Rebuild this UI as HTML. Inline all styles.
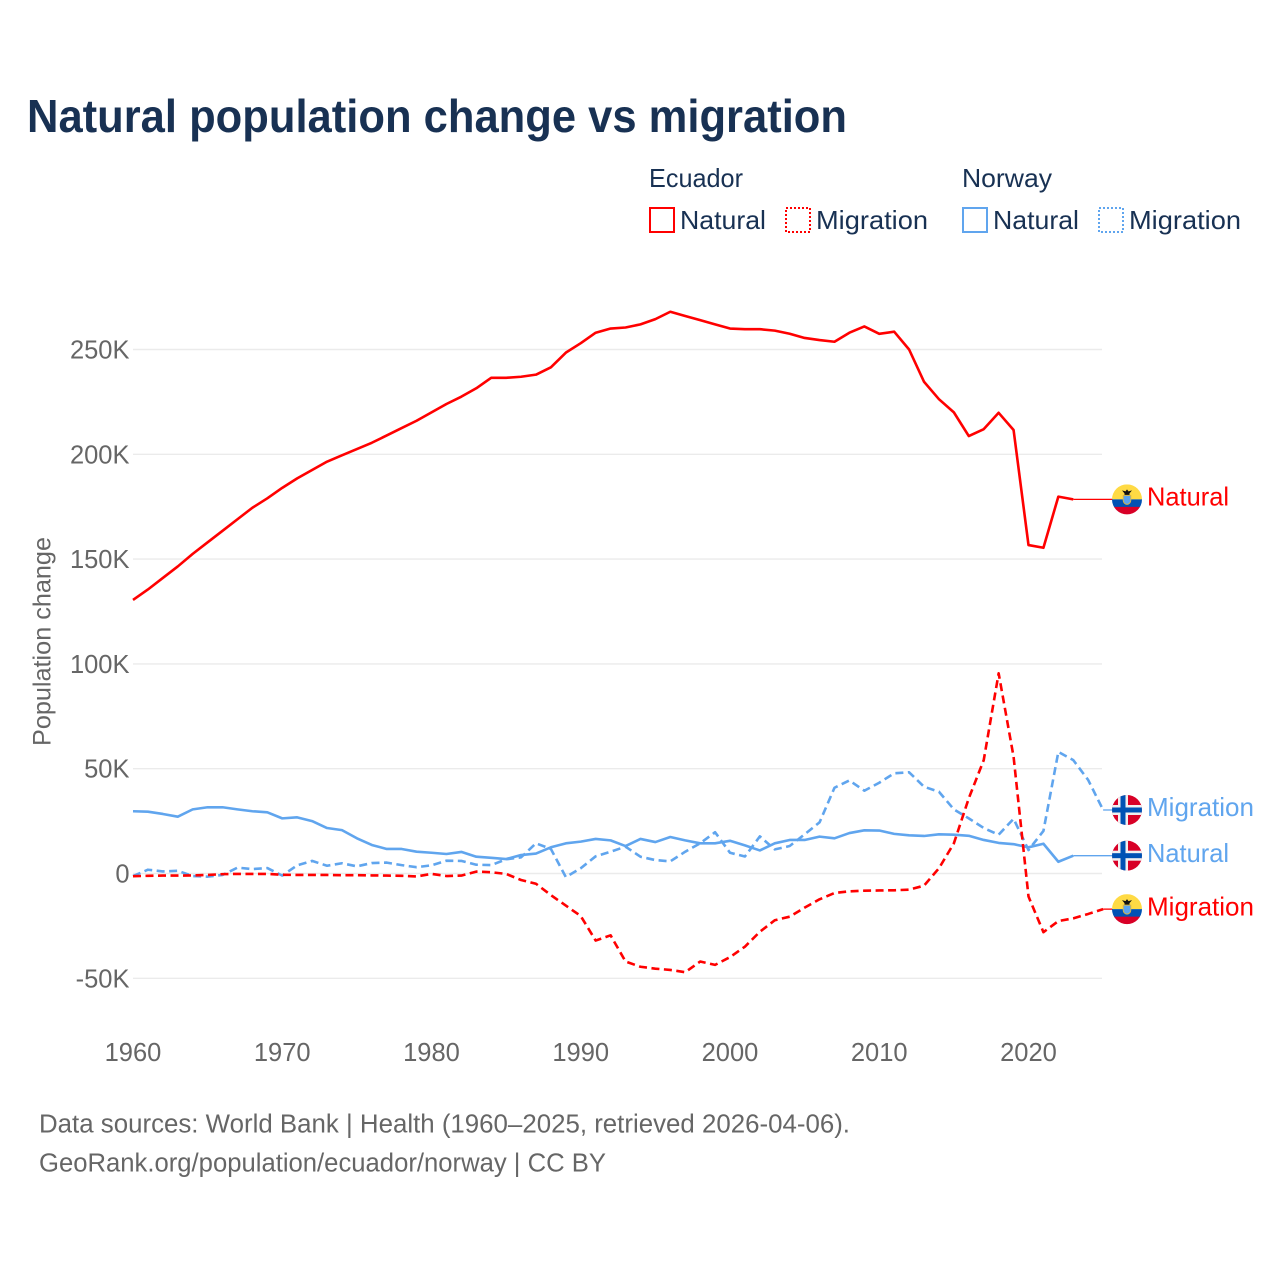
<!DOCTYPE html>
<html lang="en">
<head>
<meta charset="utf-8">
<title>Natural population change vs migration</title>
<style>
html,body{margin:0;padding:0;background:#fff;width:1280px;height:1280px;overflow:hidden}
svg{display:block}
text{font-family:"Liberation Sans",sans-serif}
</style>
</head>
<body>
<svg id="chart" xmlns="http://www.w3.org/2000/svg" width="1280" height="1280" viewBox="0 0 1280 1280">
  <defs>
    <clipPath id="flag-clip"><circle cx="0" cy="0" r="15"></circle></clipPath>
  </defs>
  <rect x="0" y="0" width="1280" height="1280" fill="#ffffff"></rect>
  <text x="27" y="132" font-size="46" font-weight="700" fill="#183153" textLength="820" lengthAdjust="spacingAndGlyphs">Natural population change vs migration</text>

  <g font-size="26" fill="#183153">
    <text x="649" y="187" textLength="94" lengthAdjust="spacingAndGlyphs">Ecuador</text>
    <text x="962" y="187" textLength="90" lengthAdjust="spacingAndGlyphs">Norway</text>
    <g>
      <rect x="650" y="208" width="24" height="24" fill="none" stroke="#ff0000" stroke-width="2"></rect>
      <text x="680" y="229" textLength="86" lengthAdjust="spacingAndGlyphs">Natural</text>
    </g>
    <g>
      <rect x="786" y="208" width="24" height="24" fill="none" stroke="#ff0000" stroke-width="2" stroke-dasharray="2 2"></rect>
      <text x="816" y="229" textLength="112" lengthAdjust="spacingAndGlyphs">Migration</text>
    </g>
    <g>
      <rect x="963" y="208" width="24" height="24" fill="none" stroke="#60a5ee" stroke-width="2"></rect>
      <text x="993" y="229" textLength="86" lengthAdjust="spacingAndGlyphs">Natural</text>
    </g>
    <g>
      <rect x="1099" y="208" width="24" height="24" fill="none" stroke="#60a5ee" stroke-width="2" stroke-dasharray="2 2"></rect>
      <text x="1129" y="229" textLength="112" lengthAdjust="spacingAndGlyphs">Migration</text>
    </g>
  </g>

  <g id="grid"></g>
  <g id="yticks"></g>
  <g id="xticks"></g>
  <text transform="translate(50.5,746) rotate(-90)" x="0" y="0" font-size="25" fill="#666666" textLength="209" lengthAdjust="spacingAndGlyphs">Population change</text>
  <g id="series"></g>
  <g id="ends"></g>

  <text x="39" y="1132.5" font-size="25.5" fill="#666666" textLength="811" lengthAdjust="spacingAndGlyphs">Data sources: World Bank | Health (1960–2025, retrieved 2026-04-06).</text>
  <text x="39" y="1171.5" font-size="25.5" fill="#666666" textLength="567" lengthAdjust="spacingAndGlyphs">GeoRank.org/population/ecuador/norway | CC BY</text>
</svg>
<script>
const startYear = 1960;
const xTickLabels = [1960, 1970, 1980, 1990, 2000, 2010, 2020];
const yTickValues = [250, 200, 150, 100, 50, 0, -50];
const yTickLabels = ["250K", "200K", "150K", "100K", "50K", "0", "-50K"];

const ecuadorNatural = [130.5,135.5,141,146.5,152.5,158,163.5,169,174.5,179,184,188.5,192.5,196.5,199.5,202.5,205.5,209,212.5,216,220,224,227.5,231.5,236.5,236.5,237,238,241.5,248.5,253,258,260,260.5,262,264.5,268,266,264,262,260,259.7,259.7,259,257.5,255.5,254.5,253.7,258,261,257.5,258.5,250,234.6,226.3,220,208.7,212,219.8,211.6,156.7,155.4,179.8,178.5];
const ecuadorMigration = [-1.3,-1.1,-1,-1,-0.9,-0.7,-0.3,-0.2,-0.2,-0.2,-0.6,-0.7,-0.7,-0.7,-0.8,-0.8,-0.9,-1,-1.1,-1.4,-0.2,-1.2,-1,0.9,0.6,-0.2,-3.1,-4.9,-10.3,-15.3,-20.3,-32,-29.5,-42,-44.5,-45.4,-46,-47.1,-42,-43.6,-39.9,-34.9,-27.8,-22.3,-20.6,-16.3,-12.3,-9.3,-8.5,-8.2,-8.1,-8,-7.7,-5.8,2.5,14.4,35.9,54.1,95.5,55.7,-11,-28,-22.7,-21.4,-19.3,-17];
const norwayNatural = [29.7,29.5,28.4,27.1,30.6,31.6,31.6,30.6,29.7,29.2,26.3,26.8,25,21.7,20.7,16.8,13.6,11.7,11.7,10.4,9.9,9.3,10.3,8,7.5,6.9,8.8,9.5,12.5,14.4,15.2,16.5,15.8,13.1,16.5,15,17.4,15.8,14.4,14.4,15.6,13.4,11,14.4,16,16,17.6,16.8,19.3,20.6,20.5,18.9,18.2,17.9,18.7,18.5,18,16,14.6,14,12.5,14.2,5.6,8.5];
const norwayMigration = [-1.2,1.8,1,1.3,-1.2,-1.5,-0.7,2.8,2.1,2.6,-1,3.9,6,3.7,4.9,3.4,5,5.2,4,3,3.9,6.1,6,4.2,4,6.8,7.7,14.4,11.7,-1.7,2.5,8.2,10.4,12.8,8,6.4,5.8,10.4,14.4,19.7,9.9,8.1,17.7,11.5,13.1,18.7,24.4,40.9,44.4,39.5,43.3,47.8,48.3,41.4,39,30.6,26.3,21.7,18.5,26.1,11.2,20.3,58,54.1,44.6,30.3];

const NS = "http://www.w3.org/2000/svg";
const RED = "#ff0000";
const BLUE = "#60a5ee";
function xScale(year) { return 133 + (year - 1960) * 14.925; }
function yScale(v) { return 873.5 - v * 2.096; }
function make(tag, attrs, parent) {
  const el = document.createElementNS(NS, tag);
  for (const k in attrs) el.setAttribute(k, attrs[k]);
  parent.appendChild(el);
  return el;
}

const gridG = document.getElementById("grid");
const yG = document.getElementById("yticks");
const xG = document.getElementById("xticks");
const seriesG = document.getElementById("series");
const endsG = document.getElementById("ends");

yTickValues.forEach(function (v, i) {
  const line = make("line", {x1: 133, x2: 1102, y1: yScale(v), y2: yScale(v), stroke: "#ebebeb", "stroke-width": 1.4}, gridG);
  
  
  const label = make("text", {x: 129.5, y: yScale(v) + 9, "text-anchor": "end", "font-size": 25.5, fill: "#666666"}, yG);
  
  
  label.textContent = yTickLabels[i];
});

xTickLabels.forEach(function (year) {
  const label = make("text", {x: xScale(year), y: 1061, "text-anchor": "middle", "font-size": 25.5, fill: "#666666"}, xG);
  
  
  label.textContent = String(year);
});

function pathFrom(values) {
  return values.map(function (v, i) {
    return (i ? "L" : "M") + xScale(startYear + i).toFixed(2) + " " + yScale(v).toFixed(2);
  }).join(" ");
}

function drawSeries(values, color, dashed, name) {
  const path = make("path", {d: pathFrom(values), fill: "none", stroke: color, "stroke-width": 2.6, "stroke-linejoin": "round"}, seriesG);
  if (dashed) path.setAttribute("stroke-dasharray", "8 4.5");
  
  
}

drawSeries(norwayNatural, BLUE, false, "line-norway-natural");
drawSeries(norwayMigration, BLUE, true, "line-norway-migration");
drawSeries(ecuadorNatural, RED, false, "line-ecuador-natural");
drawSeries(ecuadorMigration, RED, true, "line-ecuador-migration");

function drawEcuadorFlag(g) {
  const c = make("g", {"clip-path": "url(#flag-clip)"}, g);
  make("rect", {x: -15, y: -15, width: 30, height: 15, fill: "#ffda44"}, c);
  make("rect", {x: -15, y: 0, width: 30, height: 8, fill: "#0052b4"}, c);
  make("rect", {x: -15, y: 7.5, width: 30, height: 8, fill: "#d80027"}, c);
  make("path", {d: "M-5 -9 L-1.5 -8 L0 -10 L1.5 -8 L5 -9 L2.5 -6 L2.5 -4 L-2.5 -4 L-2.5 -6 Z", fill: "#111111"}, c);
  make("path", {d: "M-3.8 -4 H3.8 V1 A3.8 4 0 0 1 -3.8 1 Z", fill: "#5ba4ef", stroke: "#e0b63a", "stroke-width": 0.9}, c);
}

function drawNorwayFlag(g) {
  const c = make("g", {"clip-path": "url(#flag-clip)"}, g);
  make("rect", {x: -15, y: -15, width: 30, height: 30, fill: "#d80027"}, c);
  make("rect", {x: -15, y: -5, width: 30, height: 10, fill: "#f0f0f0"}, c);
  make("rect", {x: -9, y: -15, width: 10, height: 30, fill: "#f0f0f0"}, c);
  make("rect", {x: -15, y: -2.5, width: 30, height: 5, fill: "#0052b4"}, c);
  make("rect", {x: -6.5, y: -15, width: 5, height: 30, fill: "#0052b4"}, c);
}

function drawEnd(values, color, text, labelWidth, flagFn, name) {
  const lastIndex = values.length - 1;
  const y = yScale(values[lastIndex]);
  const conn = make("line", {x1: xScale(startYear + lastIndex), x2: 1113, y1: y, y2: y, stroke: color, "stroke-width": 1.3}, endsG);
  
  
  const flag = make("g", {transform: "translate(1127," + y + ")"}, endsG);
  
  
  flagFn(flag);
  const label = make("text", {x: 1147, y: y + 6.2, "font-size": 26, fill: color, textLength: labelWidth, lengthAdjust: "spacingAndGlyphs"}, endsG);
  
  
  label.textContent = text;
}

drawEnd(ecuadorNatural, RED, "Natural", 82, drawEcuadorFlag, "ecuador-natural");
drawEnd(norwayMigration, BLUE, "Migration", 107, drawNorwayFlag, "norway-migration");
drawEnd(norwayNatural, BLUE, "Natural", 82, drawNorwayFlag, "norway-natural");
drawEnd(ecuadorMigration, RED, "Migration", 107, drawEcuadorFlag, "ecuador-migration");
</script>
</body>
</html>
